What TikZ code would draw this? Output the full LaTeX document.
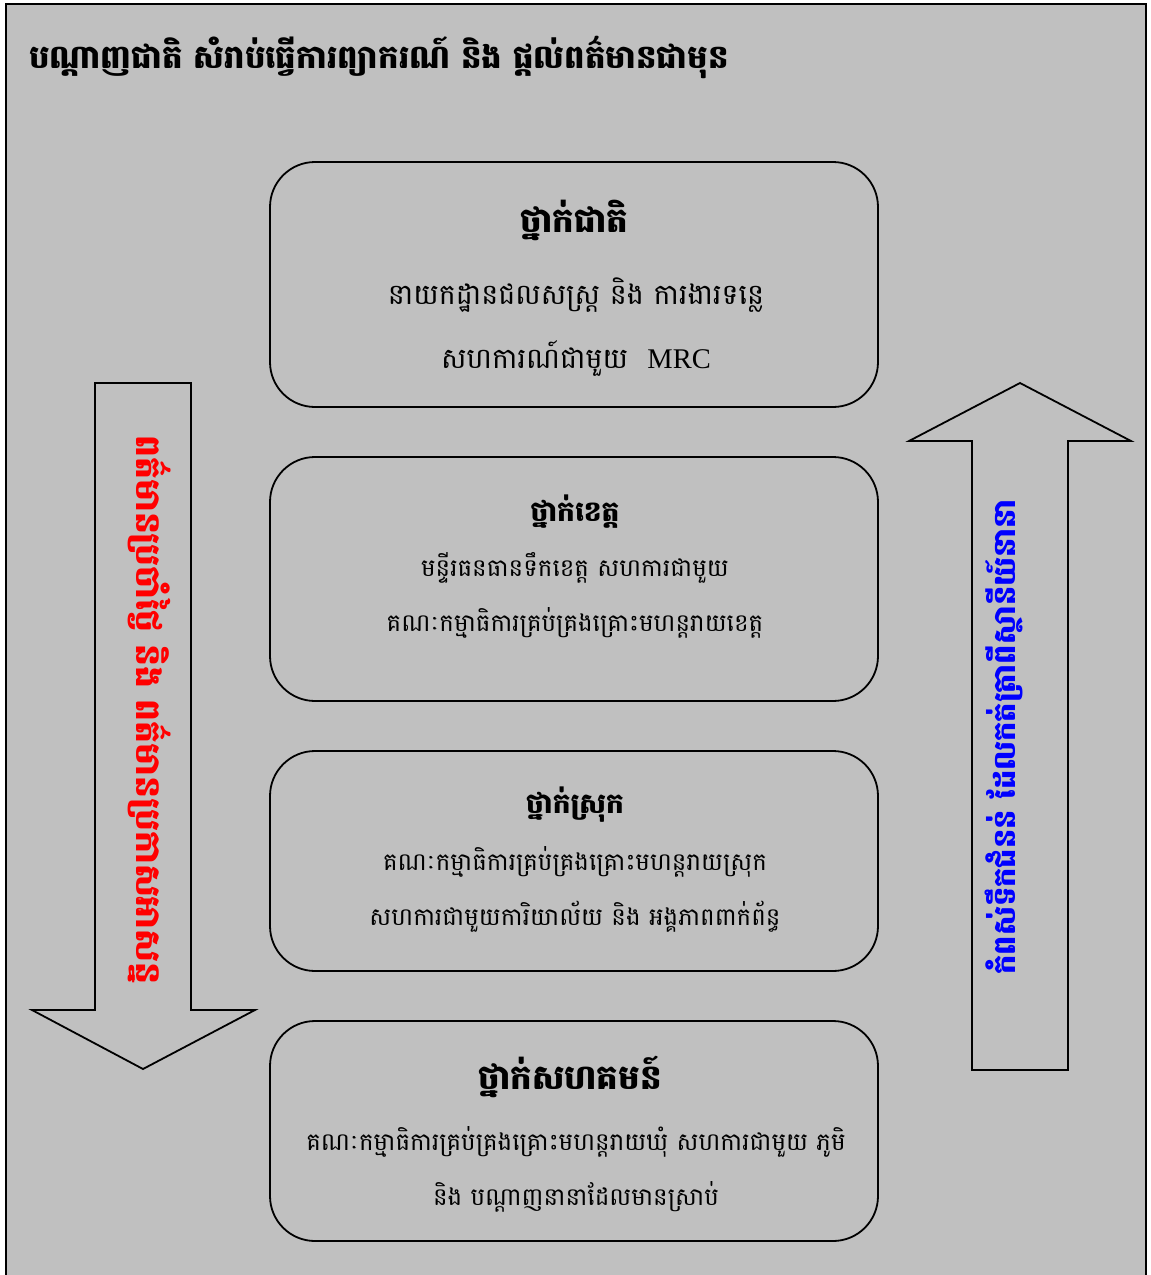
\documentclass[tikz,border=0pt]{standalone}
\usepackage{fontspec}
\newfontfamily\kh[Script=Khmer]{Battambang}
\newfontfamily\tnr{Liberation Serif}
\definecolor{bg}{RGB}{192,192,192}
\begin{document}
\begin{tikzpicture}[x=1pt,y=-1pt,
  lvl/.style={draw=black, line width=1.8pt, rounded corners=45pt, fill=bg, minimum width=608pt, inner sep=0pt},
  hdbig/.style={font=\kh\bfseries\fontsize{34}{38}\selectfont, inner sep=0pt},
  hdsmall/.style={font=\kh\bfseries\fontsize{28}{32}\selectfont, inner sep=0pt},
  bdbig/.style={font=\kh\fontsize{28.5}{32}\selectfont, inner sep=0pt},
  bd/.style={font=\kh\fontsize{24.5}{28}\selectfont, inner sep=0pt},
  arrowshape/.style={draw=black, line width=1.8pt, fill=bg, line join=miter},
  vtext/.style={font=\kh\bfseries\fontsize{30.5}{34}\selectfont, inner sep=0pt}]
\clip (0,0) rectangle (1151,1275);
\fill[white] (0,0) rectangle (1151,1275);
\draw[fill=bg, line width=1.8pt] (6,4) rectangle (1146,1300);
% title
\node[anchor=west, font=\kh\bfseries\fontsize{32.3}{36}\selectfont, inner sep=0pt] (title) at (29,57) {បណ្ដាញជាតិ សំរាប់ធ្វើការព្យាករណ៍ និង ផ្ដល់ពត៌មានជាមុន};
% arrows
\draw[arrowshape] (95,383) -- (191,383) -- (191,1010) -- (255,1010) -- (143,1069) -- (32,1010) -- (95,1010) -- cycle;
\draw[arrowshape] (972,1070) -- (1068,1070) -- (1068,441) -- (1131,441) -- (1020,383) -- (909,441) -- (972,441) -- cycle;
\node[vtext, rotate=-90, text=red, font=\kh\bfseries\fontsize{34.5}{38}\selectfont] (down) at (150,710) {ពត៌មានប្រចាំថ្ងៃ និង ពត៌មានប្រកាសអាសន្ន};
\node[vtext, rotate=90, text=blue] (up) at (1004,737) {កំពស់ទឹកជំនន់ ដែលកត់ត្រាពីស្ថានីយ៍នានា};
% boxes
\node[lvl, minimum height=245pt] (b1) at (574,284.5) {};
\node[lvl, minimum height=244pt] (b2) at (574,579) {};
\node[lvl, minimum height=220pt] (b3) at (574,861) {};
\node[lvl, minimum height=220pt] (b4) at (574,1131) {};
% box 1
\node[hdbig] (h1) at (574,220) {ថ្នាក់ជាតិ};
\node[bdbig] (t1a) at (576,295) {នាយកដ្ឋានជលសស្ត្រ និង ការងារទន្លេ};
\node[bdbig] (t1b) at (576,358) {សហការណ៍ជាមួយ\ \ {\tnr MRC}};
% box 2
\node[hdsmall] (h2) at (575,512) {ថ្នាក់ខេត្ត};
\node[bd] (t2a) at (575,568) {មន្ទីរធនធានទឹកខេត្ត សហការជាមួយ};
\node[bd] (t2b) at (575,623) {គណៈកម្មាធិការគ្រប់គ្រងគ្រោះមហន្តរាយខេត្ត};
% box 3
\node[hdsmall] (h3) at (575,805) {ថ្នាក់ស្រុក};
\node[bd] (t3a) at (575,862) {គណៈកម្មាធិការគ្រប់គ្រងគ្រោះមហន្តរាយស្រុក};
\node[bd] (t3b) at (575,917) {សហការជាមួយការិយាល័យ និង អង្គភាពពាក់ព័ន្ធ};
% box 4
\node[hdbig] (h4) at (570,1077) {ថ្នាក់សហគមន៍};
\node[bd] (t4a) at (576,1142) {គណៈកម្មាធិការគ្រប់គ្រងគ្រោះមហន្តរាយឃុំ សហការជាមួយ ភូមិ};
\node[bd] (t4b) at (576,1197) {និង បណ្ដាញនានាដែលមានស្រាប់};
\end{tikzpicture}
\end{document}
